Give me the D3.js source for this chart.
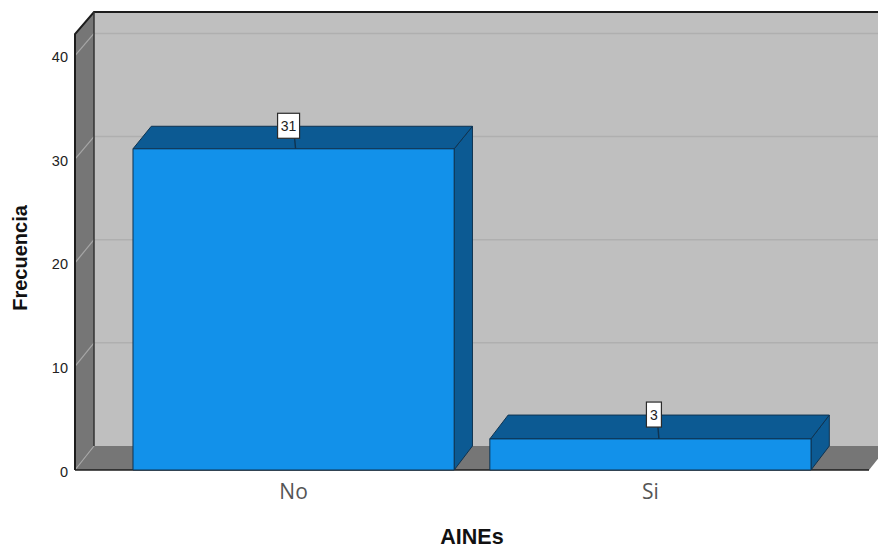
<!DOCTYPE html>
<html>
<head>
<meta charset="utf-8">
<script src="https://cdn.jsdelivr.net/npm/d3@7/dist/d3.min.js"></script>
<style>
html,body{margin:0;padding:0;background:#fff;overflow:hidden}
svg{display:block}
</style>
</head>
<body>
<svg id="chart" width="878" height="548"></svg>
<script>
const categories = ["No", "Si"];
const frequencies = [31, 3];
const yTicks = [0, 10, 20, 30, 40];
const xTitle = "AINEs";
const yTitle = "Frecuencia";

const svg = d3.select("#chart");
const depthX = 19, barDepthX = 18.3;
const plotL = 75, plotR = 869, plotB = 470, plotT = 34;
const yMax = 42.08;

// Front plane and back plane of the 3D box have slightly different scales
const y = d3.scaleLinear().domain([0, yMax]).range([plotB, plotT]);
const yBack = d3.scaleLinear().domain([0, yMax]).range([446, 12]);
const x = d3.scaleBand().domain(categories).range([plotL, plotR])
  .paddingInner(0.1).paddingOuter(0.1625);

const pts = a => a.map(p => p.join(",")).join(" ");
const edge = "#0f3350";
const backL = plotL + depthX, backR = plotR + depthX;

// Back wall
svg.append("polygon")
  .attr("points", pts([[backL, yBack(yMax)], [backR, yBack(yMax)], [backR, yBack(0)], [backL, yBack(0)]]))
  .attr("fill", "#bfbfbf");

// Floor
svg.append("polygon")
  .attr("points", pts([[plotL, y(0)], [plotR, y(0)], [backR, yBack(0)], [backL, yBack(0)]]))
  .attr("fill", "#767676");

// Side wall
svg.append("polygon")
  .attr("points", pts([[plotL, y(yMax)], [backL, yBack(yMax)], [backL, yBack(0)], [plotL, y(0)]]))
  .attr("fill", "#767676");

// Gridlines on the back and side walls
svg.append("g").selectAll("line").data(yTicks.filter(t => t > 0)).join("line")
  .attr("x1", backL).attr("x2", backR)
  .attr("y1", d => yBack(d)).attr("y2", d => yBack(d))
  .attr("stroke", "#afafaf").attr("stroke-width", 1.5);
svg.append("g").selectAll("line").data(yTicks).join("line")
  .attr("x1", plotL).attr("x2", backL)
  .attr("y1", d => y(d)).attr("y2", d => yBack(d))
  .attr("stroke", "#a6a6a6").attr("stroke-width", 1.2);

// Frame
const frame = svg.append("g").attr("fill", "none").attr("stroke", "#1d1d1d");
frame.append("polyline")
  .attr("points", pts([[plotL, y(0)], [plotL, y(yMax)], [backL, yBack(yMax)], [backR, yBack(yMax)]]))
  .attr("stroke-width", 2);
frame.append("line")
  .attr("x1", backL).attr("x2", backL)
  .attr("y1", yBack(yMax)).attr("y2", yBack(0))
  .attr("stroke-width", 1.5).attr("stroke", "#333");
frame.append("line")
  .attr("x1", plotL).attr("x2", plotR)
  .attr("y1", y(0)).attr("y2", y(0))
  .attr("stroke-width", 1.5);

// Extruded bars
const rows = categories.map((c, i) => ({ c, v: frequencies[i] }));
const bars = svg.append("g").selectAll("g").data(rows).join("g")
  .attr("stroke", edge).attr("stroke-width", 1).attr("stroke-linejoin", "round");
bars.append("polygon")
  .attr("points", d => {
    const x1 = x(d.c) + x.bandwidth();
    return pts([[x1, y(d.v)], [x1 + barDepthX, yBack(d.v)], [x1 + barDepthX, yBack(0)], [x1, y(0)]]);
  })
  .attr("fill", "#0c5a93");
bars.append("polygon")
  .attr("points", d => {
    const x0 = x(d.c), x1 = x0 + x.bandwidth();
    return pts([[x0, y(d.v)], [x1, y(d.v)], [x1 + barDepthX, yBack(d.v)], [x0 + barDepthX, yBack(d.v)]]);
  })
  .attr("fill", "#0c5a93");
bars.append("rect")
  .attr("x", d => x(d.c)).attr("y", d => y(d.v))
  .attr("width", x.bandwidth()).attr("height", d => y(0) - y(d.v))
  .attr("fill", "#1291ea");

// Value labels with leader lines; each label sits off the bar's centre
const labelShift = [1.5, 8];
const boxWidths = [22, 15];
const labels = svg.append("g").selectAll("g").data(rows).join("g");
labels.each(function (d, i) {
  const g = d3.select(this);
  const lx = x(d.c) + x.bandwidth() / 2 + labelShift[i];
  const w = boxWidths[i];
  const boxRight = lx + (i === 0 ? 4.5 : 3);
  const boxTop = yBack(d.v) - 13;
  const boxH = 25;
  g.append("line")
    .attr("x1", lx + 0.5).attr("y1", y(d.v))
    .attr("x2", lx - 0.5).attr("y2", boxTop + boxH)
    .attr("stroke", edge).attr("stroke-width", 1.4);
  g.append("rect")
    .attr("x", boxRight - w).attr("y", boxTop)
    .attr("width", w).attr("height", boxH)
    .attr("fill", "#fff").attr("stroke", "#2b2b2b").attr("stroke-width", 1.2);
  g.append("text")
    .attr("x", boxRight - w / 2).attr("y", boxTop + 18)
    .attr("text-anchor", "middle")
    .attr("font-family", "'Liberation Sans', sans-serif").attr("font-size", 14)
    .attr("fill", "#222").text(d.v);
});

// Value axis
const yAxis = svg.append("g").attr("transform", `translate(${plotL},0)`)
  .call(d3.axisLeft(y).tickValues(yTicks).tickSize(0).tickPadding(7));
yAxis.select(".domain").remove();
yAxis.selectAll("text")
  .attr("font-family", "'Liberation Sans', sans-serif").attr("font-size", 14.5).attr("fill", "#222")
  .attr("dy", "0.42em");

// Category axis
const xAxis = svg.append("g").attr("transform", `translate(0,${plotB})`)
  .call(d3.axisBottom(x).tickSize(0).tickPadding(14));
xAxis.select(".domain").remove();
xAxis.selectAll("text")
  .attr("font-family", "'Open Sans', sans-serif").attr("font-size", 21).attr("fill", "#555");

// Axis titles
svg.append("text").attr("x", 472).attr("y", 544).attr("text-anchor", "middle")
  .attr("font-family", "'Liberation Sans', sans-serif").attr("font-weight", "bold")
  .attr("font-size", 21.5).attr("fill", "#111").text(xTitle);
svg.append("text").attr("transform", "translate(27,258) rotate(-90)").attr("text-anchor", "middle")
  .attr("font-family", "'Liberation Sans', sans-serif").attr("font-weight", "bold")
  .attr("font-size", 20).attr("fill", "#111").text(yTitle);
</script>
</body>
</html>
